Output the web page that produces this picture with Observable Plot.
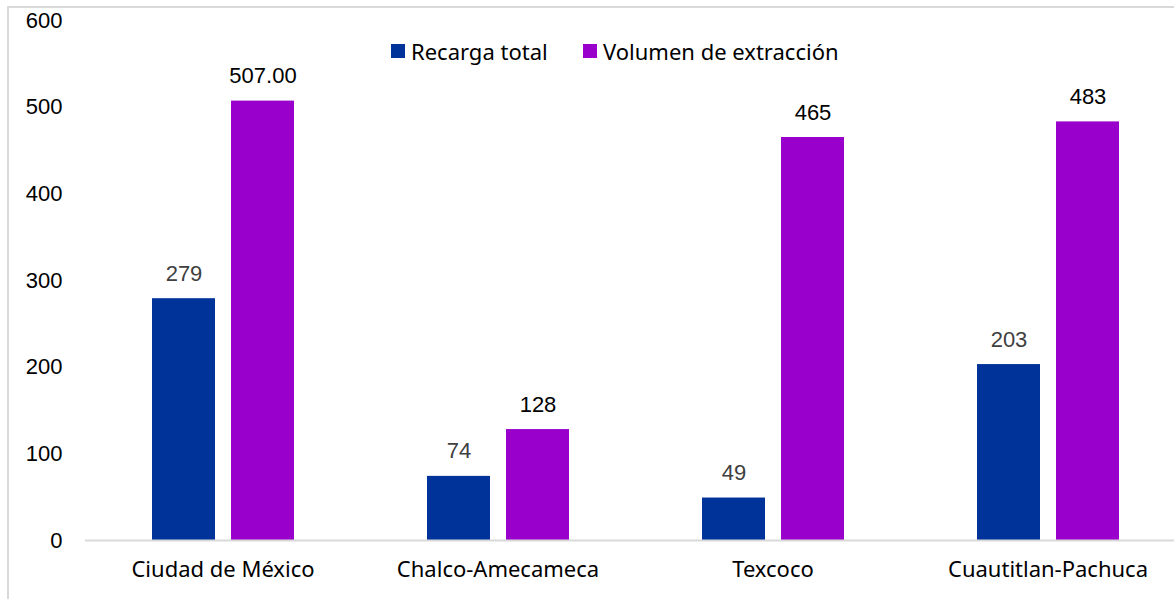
<!DOCTYPE html>
<html>
<head>
<meta charset="utf-8">
<script src="https://cdn.jsdelivr.net/npm/d3@7"></script>
<script src="https://cdn.jsdelivr.net/npm/@observablehq/plot@0.6"></script>
<style>
  html, body { margin: 0; padding: 0; background: #fff; }
  #wrap { position: relative; width: 1174px; height: 599px; overflow: hidden; }
  #frame { position: absolute; left: 7px; top: 6px; width: 1180px; height: 600px; border: 2px solid #d9d9d9; box-sizing: border-box; pointer-events: none; }
  #legend { position: absolute; top: 36px; left: 0; width: 1174px; height: 30px; font-family: "Noto Sans", sans-serif; font-size: 22px; color: #000; }
  .item { position: absolute; top: 0; display: flex; align-items: center; height: 30px; }
  .sw { width: 14px; height: 14px; margin-right: 6px; }
  svg { position: absolute; left: 0; top: 0; }
</style>
</head>
<body>
<div id="wrap">
  <div id="frame"></div>
  <div id="legend"></div>
</div>
<script>
const categories = ["Ciudad de México", "Chalco-Amecameca", "Texcoco", "Cuautitlan-Pachuca"];
const seriesNames = ["Recarga total", "Volumen de extracción"];
const recarga = [279, 74, 49, 203];
const volumen = [507, 128, 465, 483];
const recargaLabels = ["279", "74", "49", "203"];
const volumenLabels = ["507.00", "128", "465", "483"];
const colors = ["#003399", "#9900cc"];
const labelColors = ["#404040", "#000000"];
const yTicks = [0, 100, 200, 300, 400, 500, 600];

const data = [];
categories.forEach((c, i) => {
  data.push({cat: c, series: seriesNames[0], value: recarga[i], label: recargaLabels[i], lc: labelColors[0]});
  data.push({cat: c, series: seriesNames[1], value: volumen[i], label: volumenLabels[i], lc: labelColors[1]});
});

const chart = Plot.plot({
  width: 1174,
  height: 599,
  marginTop: 20,
  marginBottom: 59,
  marginLeft: 85,
  marginRight: 0,
  style: {background: "transparent", overflow: "visible"},
  fx: {domain: categories, range: [85, 1185], padding: 0, label: null, axis: null},
  x: {domain: seriesNames, paddingInner: 0.2075, paddingOuter: 0.833, axis: null},
  y: {domain: [0, 600], range: [540, 20], axis: null},
  color: {domain: seriesNames, range: colors},
  marks: [
    Plot.barY(data, {fx: "cat", x: "series", y: "value", fill: "series"}),
    Plot.ruleY([0], {stroke: "#d9d9d9", strokeWidth: 2}),
    Plot.text(data, {fx: "cat", x: "series", y: "value", text: "label", fill: "lc", dy: -25,
      fontSize: 22, fontFamily: "Liberation Sans, Arial, sans-serif"}),
    Plot.axisY(yTicks, {tickSize: 0, tickPadding: 23, fontSize: 22, fontFamily: "Liberation Sans, Arial, sans-serif",
      fill: "#000", label: null, tickFormat: d => String(d)}),
    Plot.axisFx({anchor: "bottom", tickSize: 0, tickPadding: 21, fontSize: 22, fontFamily: "Noto Sans, sans-serif",
      fill: "#000", label: null})
  ]
});
document.getElementById("wrap").appendChild(chart);

const legend = document.getElementById("legend");
const lx = [391, 583];
seriesNames.forEach((s, i) => {
  const it = document.createElement("div");
  it.className = "item";
  it.style.left = lx[i] + "px";
  const sw = document.createElement("span");
  sw.className = "sw";
  sw.style.background = colors[i];
  const t = document.createElement("span");
  t.textContent = s;
  it.appendChild(sw); it.appendChild(t);
  legend.appendChild(it);
});
</script>
</body>
</html>
